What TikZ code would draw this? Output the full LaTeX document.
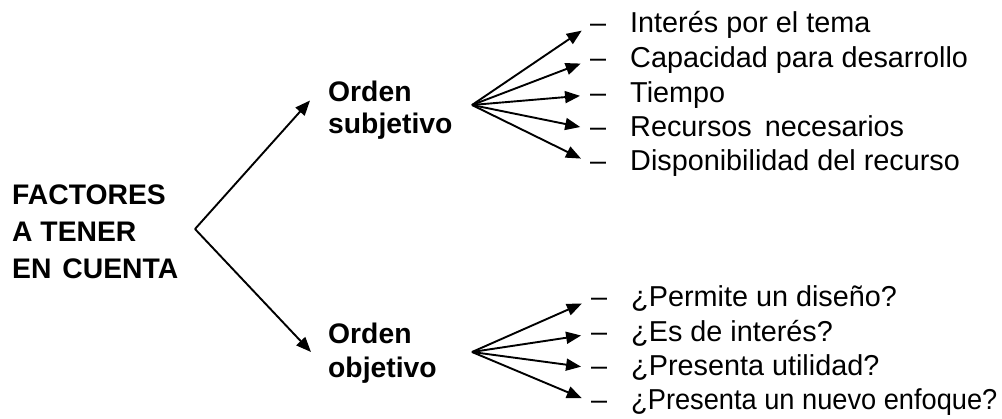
\documentclass[tikz,border=0pt]{standalone}
\usepackage{fontspec}
\setmainfont{Liberation Sans}
\usetikzlibrary{arrows.meta}
\begin{document}
\begin{tikzpicture}[x=1pt,y=-1pt,
  arr/.style={line width=1.9pt,-{Triangle[length=15pt,width=12pt]}},
  head/.style={anchor=base west,inner sep=0pt,font=\bfseries\fontsize{28.3}{37}\selectfont},
  item/.style={anchor=base west,inner sep=0pt,text height=20pt,text depth=6pt,
    font=\fontsize{28.8}{34}\selectfont},
  fan/.style={arr,shorten >=10pt}]
\useasboundingbox (0,0) rectangle (1002,418);
% left label
\node[head] (fac) at (12,204) {\begin{tabular}[t]{@{}l@{}}FACTORES\\A TENER\\EN\hspace{11pt}CUENTA\end{tabular}};
% middle labels
\node[head,font=\bfseries\fontsize{28.3}{32}\selectfont] (osub) at (328,101.5) {\begin{tabular}[t]{@{}l@{}}Orden\\subjetivo\end{tabular}};
\node[head,font=\bfseries\fontsize{28.3}{34}\selectfont] (oobj) at (328,343.5) {\begin{tabular}[t]{@{}l@{}}Orden\\objetivo\end{tabular}};
% branch
\coordinate (v) at (195,229);
\coordinate (tsub) at (310,100.5);
\coordinate (tobj) at (311,352);
\draw[arr] (v) -- (tsub);
\draw[arr] (v) -- (tobj);
% items subjetivo
\node[item] (s1) at (590,32) {–\hspace{24pt}Interés por el tema};
\node[item] (s2) at (590,67) {–\hspace{24pt}Capacidad para desarrollo};
\node[item] (s3) at (590,102) {–\hspace{24pt}Tiempo};
\node[item] (s4) at (590,136) {–\hspace{24pt}Recursos\hspace{13pt}necesarios};
\node[item] (s5) at (590,170) {–\hspace{24pt}Disponibilidad del recurso};
% items objetivo
\node[item] (b1) at (591,306.5) {–\hspace{24pt}¿Permite un diseño?};
\node[item] (b2) at (591,341) {–\hspace{24pt}¿Es de interés?};
\node[item] (b3) at (591,375) {–\hspace{24pt}¿Presenta utilidad?};
\node[item] (b4) at (591,409) {–\hspace{24pt}\scalebox{0.945}[1]{¿Presenta un nuevo enfoque?}};
% fans
\coordinate (fs) at (472,105);
\coordinate (fo) at (472,352);
\foreach \n in {s1,s2,s3,s4,s5} \draw[fan] (fs) -- (\n.west);
\foreach \n in {b1,b2,b3,b4} \draw[fan] (fo) -- (\n.west);
\end{tikzpicture}
\end{document}
